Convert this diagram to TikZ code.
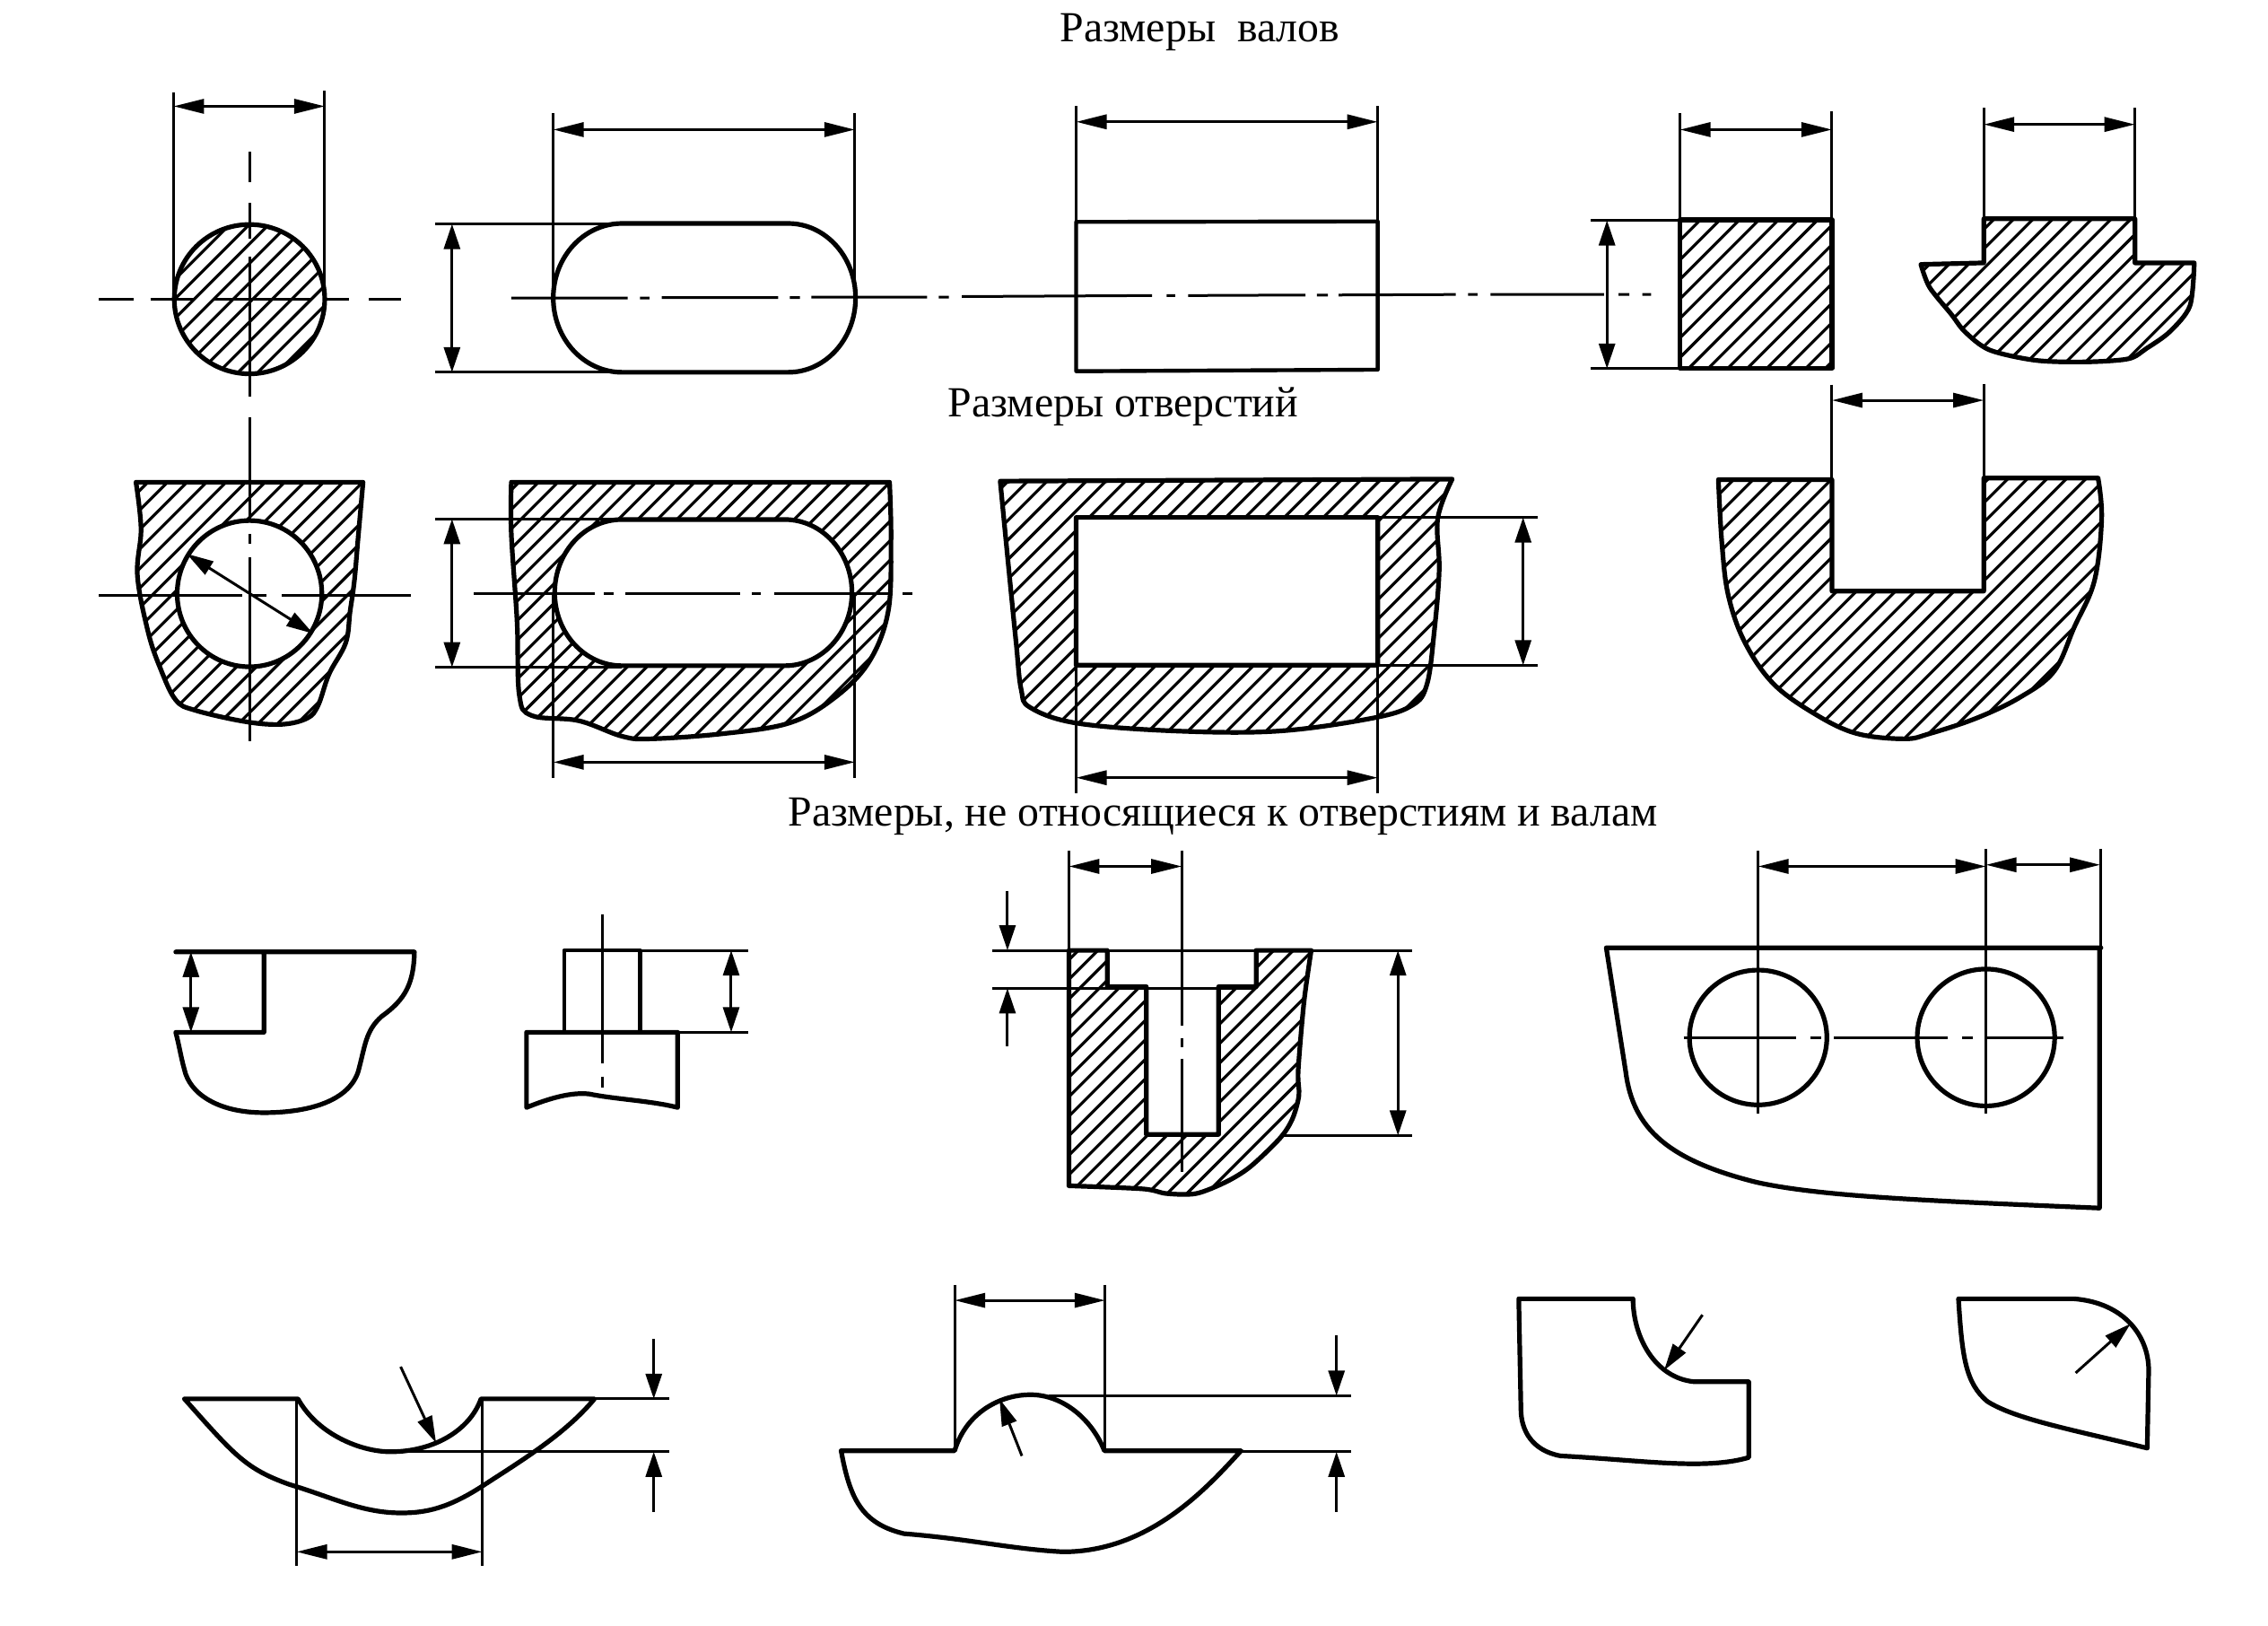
\documentclass[tikz,border=0pt]{standalone}
\usepackage{fontspec}
\setmainfont{Liberation Serif}
\usetikzlibrary{arrows.meta}
\tikzset{
  thinl/.style={line width=1.5pt,line cap=butt},
  thickl/.style={line width=2.6pt,line join=round,line cap=round},
  hatchl/.style={line width=1.6pt},
  tiph/.tip={Triangle[length=17pt,width=8pt]},
  tipv/.tip={Triangle[length=14pt,width=9pt]},
  tipd/.tip={Triangle[length=15pt,width=8.5pt]},
  dimh/.style={line width=1.5pt,{tiph}-{tiph}},
  dimv/.style={line width=1.5pt,{tipv}-{tipv}},
  dimd/.style={line width=1.5pt,{tipd}-{tipd}},
  leadv/.style={line width=1.5pt,-{tipv}},
  leadd/.style={line width=1.5pt,-{tipd}},
  titlet/.style={font=\fontsize{23.9}{26}\selectfont,inner sep=0pt,anchor=center}
}
\newcommand{\hatchlines}{\draw[hatchl] \foreach \c in {-200,-173,...,3000} {(\c,-50) -- ++(-1197,1670)};}
\newcommand{\hatched}[1]{\begin{scope}[even odd rule]\clip #1;\hatchlines\end{scope}\draw[thickl,even odd rule] #1;}
\begin{document}
\begin{tikzpicture}[x=0.40306pt,y=-0.28890pt]
\useasboundingbox (0,0) rectangle (3136,3136);
\fill[white] (0,0) rectangle (3136,3136);
% titles
\node[titlet] (t1) at (1659,63) {Размеры\ \ валов};
\node[titlet] (t2) at (1553,784) {Размеры отверстий};
\node[titlet] (t3) at (1691,1574) {Размеры, не относящиеся к отверстиям и валам};
% ---------- top-left quadrant coordinates
% A
\hatched{(345,577) ellipse [x radius=104,y radius=144]}
\draw[thinl] (240,178)--(240,577) (449,175)--(449,577);
\draw[dimh] (240,205)--(449,205);
\draw[thinl] (137,577)--(185,577) (208,577)--(268,577) (295,577)--(430,577) (450,577)--(482,577) (510,577)--(555,577);
\draw[thinl] (345,293)--(345,352) (345,392)--(345,460) (345,495)--(345,765);
% B
\draw[thickl] (860,431)--(1090,431) arc[start angle=-90,end angle=90,x radius=93,y radius=143.5]--(860,718) arc[start angle=90,end angle=270,x radius=95,y radius=143.5]--cycle;
\draw[thinl] (765,218)--(765,575) (1182,218)--(1182,570) (602,432)--(860,432) (602,718)--(860,718);
\draw[dimh] (765,250)--(1182,250);
\draw[dimv] (625,432)--(625,718);
\draw[thinl] (707,575)--(868,575) (885,575)--(898,575) (915,574)--(1076,574) (1092,574)--(1106,574) (1122,573)--(1282,573) (1298,573)--(1312,573) (1330,572)--(1593,570) (1613,570)--(1625,570) (1643,570)--(1805,569) (1821,569)--(1836,569) (1851,569)--(2013,568) (2030,568)--(2043,568) (2061,568)--(2218,568) (2238,568)--(2253,568) (2271,568)--(2283,568);
% C
\draw[thickl,line width=2.2pt] (1488,428)--(1905,427)--(1905,713)--(1488,716)--cycle;
\draw[thinl] (1488,205)--(1488,428) (1905,205)--(1905,427);
\draw[dimh] (1488,235)--(1905,235);
% F
\hatched{(188,930)--(502,930)--plot[smooth,tension=0.6] coordinates {(502,930)(495,1040)(490,1120)(484,1180)(478,1240)(455,1300)(440,1360)(425,1385)(390,1397)(340,1392)(270,1370)(243,1350)(222,1290)(205,1220)(190,1110)(195,1020)(188,930)} -- cycle (345,1145) ellipse [x radius=100,y radius=141]}
\draw[thinl] (137,1148)--(335,1148) (350,1148)--(368,1148) (390,1148)--(568,1148);
\draw[thinl] (345,805)--(345,1003) (345,1030)--(345,1048) (345,1075)--(345,1430);
\draw[dimd] (258,1068)--(433,1222);
% G
\hatched{(707,930)--(1230,930)--plot[smooth,tension=0.6] coordinates {(1230,930)(1232,1040)(1228,1180)(1200,1280)(1150,1350)(1090,1395)(1000,1415)(900,1425)(860,1420)(800,1390)(735,1380)(718,1340)(715,1200)(707,1030)(707,930)} -- cycle (860,1002)--(1085,1002) arc[start angle=-90,end angle=90,x radius=93,y radius=141]--(860,1284) arc[start angle=90,end angle=270,x radius=93,y radius=141]--cycle}
\draw[thinl] (765,1145)--(765,1500) (1182,1145)--(1182,1500) (602,1001)--(860,1001) (602,1287)--(860,1287);
\draw[dimv] (625,1001)--(625,1287);
\draw[dimh] (765,1470)--(1182,1470);
\draw[thinl] (655,1145)--(823,1145) (835,1145)--(848,1145) (865,1145)--(1023,1145) (1040,1145)--(1052,1145) (1070,1145)--(1232,1145) (1248,1145)--(1262,1145);
% H
\hatched{(1383,928)--(2008,924)--plot[smooth,tension=0.6] coordinates {(2008,924)(1988,1000)(1990,1100)(1983,1220)(1973,1320)(1953,1360)(1898,1385)(1768,1410)(1628,1410)(1490,1395)(1425,1365)(1412,1330)(1405,1240)(1395,1100)(1383,928)} -- cycle (1488,998)--(1905,998)--(1905,1283)--(1488,1283)--cycle}
\draw[thinl] (1905,998)--(2126,998) (1905,1283)--(2126,1283) (1488,1283)--(1488,1530) (1905,1283)--(1905,1530);
\draw[dimv] (2106,998)--(2106,1283);
\draw[dimh] (1488,1500)--(1905,1500);
% ---------- top-right quadrant
\begin{scope}[shift={(1568,0)}]
% D
\hatched{(755,424)--(965,424)--(965,710)--(755,710)--cycle}
\draw[thinl] (755,218)--(755,424) (965,215)--(965,424) (632,425)--(755,425) (632,711)--(755,711);
\draw[dimh] (755,250)--(965,250);
\draw[dimv] (654,425)--(654,711);
% E
\hatched{(1175,422)--(1384,422)--(1384,507)--(1466,507)--plot[smooth,tension=0.5] coordinates {(1466,507)(1460,590)(1432,640)(1400,672)(1375,692)(1316,698)(1247,695)(1183,675)(1149,640)(1130,606)(1100,554)(1088,510)}--(1175,507)--cycle}
\draw[thinl] (1175,208)--(1175,422) (1384,208)--(1384,422);
\draw[dimh] (1175,240)--(1384,240);
% I
\hatched{(808,925)--(965,925)--(965,1140)--(1175,1140)--(1175,922)--(1333,922)--plot[smooth,tension=0.6] coordinates {(1333,922)(1338,1000)(1328,1120)(1300,1210)(1272,1295)(1225,1345)(1165,1385)(1100,1415)(1065,1425)(1000,1415)(945,1380)(885,1320)(845,1240)(822,1150)(813,1050)(808,925)}--cycle}
\draw[thinl] (965,742)--(965,925) (1175,740)--(1175,922);
\draw[dimh] (965,772)--(1175,772);
\end{scope}
% ---------- bottom-left quadrant
\begin{scope}[shift={(0,1568)}]
% J
\draw[thickl] (243,268)--(573,268) .. controls (572,330) and (560,360) .. (528,392) .. controls (505,420) and (505,450) .. (495,500) .. controls (480,560) and (420,578) .. (365,578) .. controls (300,578) and (262,540) .. (255,495) .. controls (250,470) and (248,450) .. (243,423) --(365,423)--(365,268);
\draw[dimv] (264,268)--(264,423);
% K
\draw[thickl] (728,423)--(937,423)--(937,568) .. controls (900,555) and (850,552) .. (815,542) .. controls (790,538) and (760,550) .. (728,568)--(728,423);
\draw[thickl,line width=2.2pt] (780,423)--(780,265)--(885,265)--(885,423);
\draw[thinl] (885,265)--(1035,265) (937,423)--(1035,423) (833,195)--(833,483) (833,508)--(833,530);
\draw[dimv] (1011,265)--(1011,423);
% L
\hatched{(1478,265)--(1531,265)--(1531,335)--(1585,335)--(1585,620)--(1685,620)--(1685,335)--(1737,335)--(1737,265)--(1813,265)--plot[smooth,tension=0.5] coordinates {(1813,265)(1803,365)(1795,497)(1796,545)(1787,590)(1770,627)(1729,682)(1696,711)(1654,734)(1613,734)(1580,725)(1478,719)}--cycle}
\draw[thinl] (1372,265)--(1953,265) (1372,338)--(1737,338) (1770,622)--(1953,622) (1478,72)--(1478,265) (1634,72)--(1634,410) (1634,434)--(1634,451) (1634,474)--(1634,693);
\draw[dimh] (1478,103)--(1634,103);
\draw[dimv] (1933,265)--(1933,622);
\draw[leadv] (1393,150)--(1393,265);
\draw[leadv] (1393,450)--(1393,338);
% N
\draw[thickl] (255,1130)--(412,1130) .. controls (440,1200) and (500,1232) .. (540,1232) .. controls (600,1232) and (650,1190) .. (665,1130)--(822,1130) .. controls (780,1200) and (720,1250) .. (665,1300) .. controls (620,1340) and (590,1350) .. (555,1350) .. controls (500,1350) and (460,1320) .. (400,1295) .. controls (340,1265) and (325,1240) .. (255,1130);
\draw[thinl] (410,1130)--(410,1452) (667,1130)--(667,1452) (822,1130)--(925,1130) (520,1232)--(925,1232);
\draw[dimh] (410,1425)--(667,1425);
\draw[leadv] (904,1015)--(904,1130);
\draw[leadv] (904,1348)--(904,1232);
\draw[leadd] (554,1068)--(603,1215);
% O
\draw[thickl] (1163,1230)--(1320,1230) .. controls (1335,1160) and (1380,1122) .. (1425,1122) .. controls (1470,1122) and (1510,1170) .. (1527,1230)--(1716,1230) .. controls (1670,1300) and (1590,1425) .. (1470,1425) .. controls (1400,1420) and (1340,1400) .. (1250,1390) .. controls (1190,1370) and (1175,1320) .. (1163,1230);
\draw[thinl] (1320,910)--(1320,1230) (1528,910)--(1528,1230) (1450,1124)--(1868,1124) (1716,1232)--(1868,1232);
\draw[dimh] (1320,940)--(1528,940);
\draw[leadv] (1848,1008)--(1848,1124);
\draw[leadv] (1848,1348)--(1848,1232);
\draw[leadd] (1413,1240)--(1382,1130);
\end{scope}
% ---------- bottom-right quadrant
\begin{scope}[shift={(1568,1568)}]
% M
\draw[thickl] (653,260)--(1337,260) (1335,260)--(1335,762) .. controls (1100,748) and (950,740) .. (860,712) .. controls (740,670) and (690,610) .. (680,500)--(653,260);
\draw[thickl] (863,433) ellipse [x radius=95,y radius=130];
\draw[thickl] (1178,433) ellipse [x radius=95,y radius=132];
\draw[thinl] (863,72)--(863,580) (1178,70)--(1178,580) (1336,70)--(1336,260);
\draw[dimh] (863,103)--(1178,103);
\draw[dimh] (1178,100)--(1336,100);
\draw[thinl] (760,433)--(915,433) (935,433)--(950,433) (968,433)--(1125,433) (1145,433)--(1160,433) (1178,433)--(1285,433);
% P
\draw[thickl] (532,937)--(690,937) .. controls (690,1010) and (720,1090) .. (775,1097)--(850,1097)--(850,1243) .. controls (790,1268) and (700,1248) .. (590,1240) .. controls (550,1230) and (535,1190) .. (535,1150)--(532,937);
\draw[leadd] (786,968)--(733,1075);
% Q
\draw[thickl] (1140,937)--(1300,937) .. controls (1370,945) and (1403,1010) .. (1403,1075)--(1401,1225) .. controls (1300,1190) and (1220,1170) .. (1180,1135) .. controls (1150,1100) and (1145,1050) .. (1140,937);
\draw[leadd] (1302,1080)--(1378,985);
\end{scope}
\end{tikzpicture}
\end{document}
